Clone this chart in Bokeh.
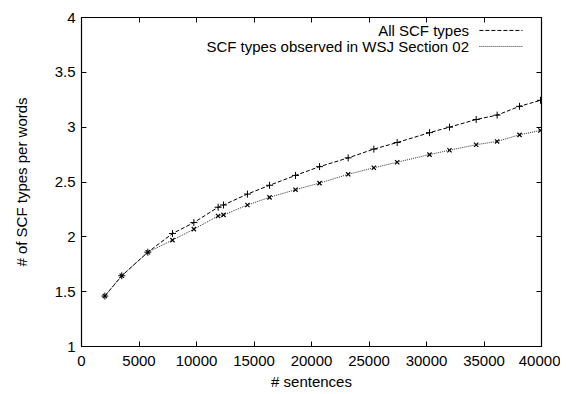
from bokeh.plotting import figure
from bokeh.models import LinearAxis, FixedTicker, Range1d, Label
from bokeh.embed import file_html
from bokeh.resources import INLINE

# ---- data ----
sentences = [2030, 3500, 5770, 7910, 9770, 11880, 12350, 14430, 16350, 18610,
             20700, 23190, 25420, 27450, 30260, 32000, 34320, 36140, 38090, 39910]
all_scf = [1.46, 1.645, 1.86, 2.03, 2.13, 2.27, 2.29, 2.39, 2.47, 2.56,
           2.64, 2.72, 2.80, 2.86, 2.95, 3.00, 3.07, 3.11, 3.19, 3.245]
wsj_scf = [1.46, 1.645, 1.86, 1.97, 2.07, 2.19, 2.20, 2.29, 2.36, 2.43,
           2.49, 2.57, 2.63, 2.68, 2.75, 2.79, 2.84, 2.87, 2.93, 2.97]
series_names = ["All SCF types", "SCF types observed in WSJ Section 02"]
x_ticks = [0, 5000, 10000, 15000, 20000, 25000, 30000, 35000, 40000]
y_ticks = [1, 1.5, 2, 2.5, 3, 3.5, 4]
y_tick_labels = ["1", "1.5", "2", "2.5", "3", "3.5", "4"]

FONT = "Liberation Sans"
FS = "15px"

p = figure(width=560, height=392, output_backend="svg", toolbar_location=None,
           x_range=Range1d(0, 40000), y_range=Range1d(1, 4),
           min_border_left=81, min_border_right=19, min_border_top=17, min_border_bottom=45)
p.xgrid.visible = False
p.ygrid.visible = False
p.outline_line_color = "black"
p.outline_line_width = 1.2
p.background_fill_color = "white"
p.border_fill_color = "white"

def style_axis(ax, labels=True):
    ax.axis_line_color = None
    ax.major_tick_in = 5
    ax.major_tick_out = 0
    ax.minor_tick_line_color = None
    ax.major_tick_line_color = "black"
    ax.major_label_text_font = FONT
    ax.major_label_text_font_size = FS
    ax.major_label_text_color = "black"
    ax.axis_label_text_font = FONT
    ax.axis_label_text_font_size = FS
    ax.axis_label_text_font_style = "normal"
    ax.axis_label_text_color = "black"
    if not labels:
        ax.major_label_text_font_size = "0px"
        ax.major_label_text_color = None

xa = p.xaxis[0]
xa.ticker = FixedTicker(ticks=x_ticks)
xa.axis_label = "# sentences"
style_axis(xa)
xa.major_label_standoff = 9
xa.axis_label_standoff = 4

ya = p.yaxis[0]
ya.ticker = FixedTicker(ticks=y_ticks)
ya.major_label_overrides = {t: l for t, l in zip(y_ticks, y_tick_labels)}
ya.axis_label = "# of SCF types per words"
style_axis(ya)
ya.major_label_standoff = 6
ya.axis_label_standoff = 22

top = LinearAxis(ticker=FixedTicker(ticks=x_ticks))
style_axis(top, labels=False)
p.add_layout(top, "above")
right = LinearAxis(ticker=FixedTicker(ticks=y_ticks))
style_axis(right, labels=False)
p.add_layout(right, "right")

# series
p.line(sentences, all_scf, line_color="black", line_width=1, line_dash="4 2")
p.scatter(sentences, all_scf, marker="cross", size=7, line_color="black", line_width=1)
p.line(sentences, wsj_scf, line_color="#333333", line_width=1, line_dash="1 1")
p.scatter(sentences, wsj_scf, marker="x", size=6, line_color="black", line_width=1.2)

# legend (gnuplot style: right aligned text, sample to the right)
leg_y = [3.882, 3.736]
dashes = ["4 2", "1 1"]
colors = ["black", "#333333"]
for name, yy, d, c in zip(series_names, leg_y, dashes, colors):
    p.add_layout(Label(x=33700, y=yy, text=name, text_align="right", text_baseline="middle",
                       text_font=FONT, text_font_size=FS, text_color="black"))
    p.line([34600, 38350], [yy, yy], line_color=c, line_width=1, line_dash=d)

open("out.html", "w").write(file_html(p, INLINE))
